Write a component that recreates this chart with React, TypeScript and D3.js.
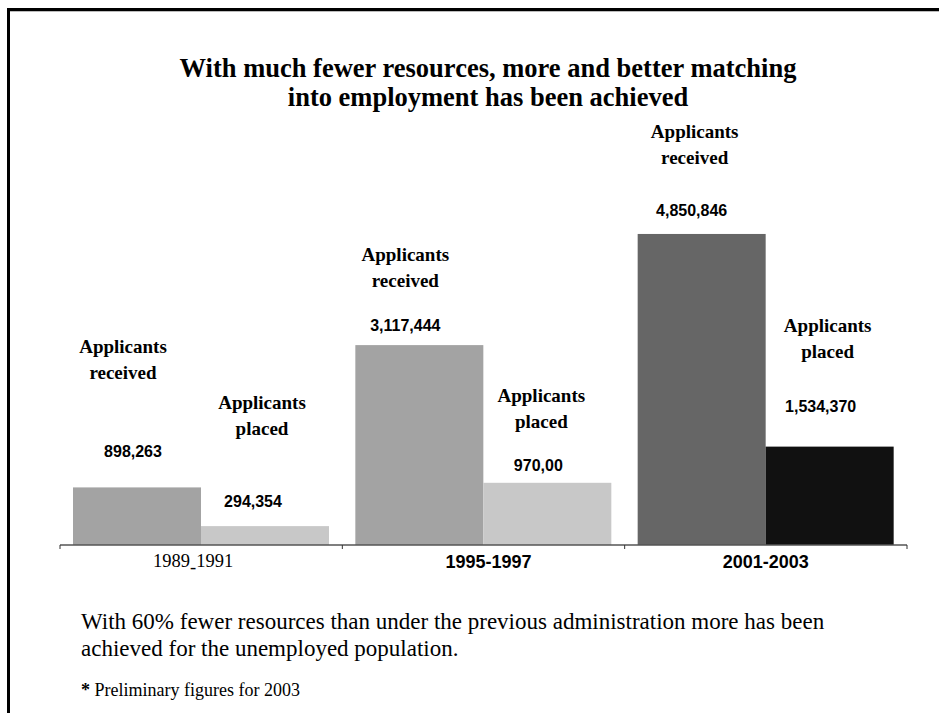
import React from 'react';
import * as d3 from 'd3';

const categories = ['1989-1991', '1995-1997', '2001-2003'];
const series = ['Applicants received', 'Applicants placed'];
const received = [898263, 3117444, 4850846];
const placed = [294354, 970000, 1534370];
const valueLabels = [
  ['898,263', '294,354'],
  ['3,117,444', '970,00'],
  ['4,850,846', '1,534,370'],
];
const titleLines = [
  'With much fewer resources, more and better matching',
  'into employment has been achieved',
];
const noteLines = [
  'With 60% fewer resources than under the previous administration more has been',
  'achieved for the unemployed population.',
];

// bar fills per category: [received, placed]
const fills = [
  ['#a3a3a3', '#c8c8c8'],
  ['#a3a3a3', '#c8c8c8'],
  ['#666666', '#111111'],
];
// hand-placed labels, gap above bar top: [series label, value]
const labelGap = [
  [[134, 30], [117, 19]],
  [[84, 14], [81, 12]],
  [[96, 18], [115, 35]],
];
// x offset of label centres from bar left edge: [series label, value]
const labelShift = [
  [[50, 60], [61, 52]],
  [[50, 50], [58, 55]],
  [[57, 54], [62, 55]],
];
const catShift = [-8, 5, 0];

const serif = '"Liberation Serif", "Times New Roman", serif';
const sans = '"Liberation Sans", Arial, sans-serif';

export default function App() {
  const W = 939;
  const H = 713;
  const baseY = 545;

  const x0 = d3.scaleBand<string>().domain(categories).range([60, 907]).padding(0);
  const x1 = d3.scaleBand<string>().domain(series).range([13, 269]).padding(0);
  const y = d3.scaleLinear().domain([0, 5000000]).range([baseY, baseY - 320.6]);

  const ticks = [...categories.map(c => x0(c)!), 907];

  return (
    <svg width={W} height={H} style={{ position: 'absolute', left: 0, top: 0, background: '#fff' }}>
      {/* frame */}
      <rect x={7} y={8} width={W - 7} height={3} fill="#000" />
      <rect x={7} y={11} width={W - 7} height={1} fill="#bbb" />
      <rect x={7} y={8} width={3} height={H - 8} fill="#000" />

      {titleLines.map((t, i) => (
        <text key={t} x={488} y={77 + i * 29} textAnchor="middle" fontFamily={serif}
          fontWeight="bold" fontSize={26.5} fill="#000">{t}</text>
      ))}

      {categories.map((c, ci) => {
        const vals = [received[ci], placed[ci]];
        return (
          <g key={c} transform={`translate(${x0(c)},0)`}>
            {series.map((s, si) => {
              const bx = x1(s)!;
              const top = y(vals[si]);
              const cx = bx + labelShift[ci][si][0];
              const [g1, g2] = labelGap[ci][si];
              const words = s.split(' ');
              return (
                <g key={s}>
                  <rect x={bx} y={top} width={x1.bandwidth()} height={baseY - top} fill={fills[ci][si]} />
                  <text x={cx} y={top - g1} textAnchor="middle" fontFamily={serif}
                    fontWeight="bold" fontSize={19} fill="#000">{words[0]}</text>
                  <text x={cx} y={top - g1 + 26} textAnchor="middle" fontFamily={serif}
                    fontWeight="bold" fontSize={19} fill="#000">{words[1]}</text>
                  <text x={bx + labelShift[ci][si][1]} y={top - g2} textAnchor="middle" fontFamily={sans}
                    fontWeight="bold" fontSize={16} fill="#000">{valueLabels[ci][si]}</text>
                </g>
              );
            })}
          </g>
        );
      })}

      {/* axis */}
      <line x1={60} x2={907} y1={baseY} y2={baseY} stroke="#555" strokeWidth={1.5} />
      {ticks.map((t, i) => (
        <line key={i} x1={t} x2={t} y1={baseY} y2={baseY + 4} stroke="#333" strokeWidth={1} />
      ))}
      {categories.map((c, i) => {
        const cx = x0(c)! + x0.bandwidth() / 2 + catShift[i];
        if (i === 0) {
          const [a, b] = c.split('-');
          return (
            <text key={c} x={cx} y={567} textAnchor="middle" fontFamily={serif} fontSize={18.5} fill="#000">
              {a}<tspan dy={5.5}>-</tspan><tspan dy={-5.5}>{b}</tspan>
            </text>
          );
        }
        return (
          <text key={c} x={cx} y={568} textAnchor="middle" fontFamily={sans} fontWeight="bold"
            fontSize={18} fill="#000">{c}</text>
        );
      })}

      {noteLines.map((t, i) => (
        <text key={t} x={81} y={629 + i * 27} fontFamily={serif} fontSize={23} fill="#000">{t}</text>
      ))}
      <text x={81} y={696} fontFamily={serif} fontSize={18} fill="#000">
        <tspan fontWeight="bold">*</tspan> Preliminary figures for 2003
      </text>
    </svg>
  );
}
